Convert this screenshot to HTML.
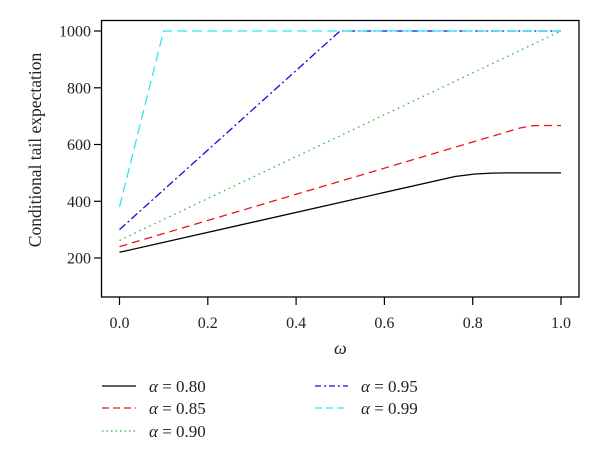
<!DOCTYPE html>
<html><head><style>body{margin:0;background:#fff}svg{display:block}text{font-family:"Liberation Serif",serif;fill:#222}</style></head><body>
<svg width="600" height="463" xmlns="http://www.w3.org/2000/svg">
<rect x="101.5" y="20.5" width="477.5" height="276.5" fill="none" stroke="#000" stroke-width="1.3"/>
<g stroke="#000" stroke-width="1.2">
<line x1="119.5" y1="297" x2="119.5" y2="305"/><line x1="207.8" y1="297" x2="207.8" y2="305"/><line x1="296.1" y1="297" x2="296.1" y2="305"/><line x1="384.4" y1="297" x2="384.4" y2="305"/><line x1="472.7" y1="297" x2="472.7" y2="305"/><line x1="561" y1="297" x2="561" y2="305"/>
<line x1="94" y1="31" x2="101.5" y2="31"/><line x1="94" y1="87.8" x2="101.5" y2="87.8"/><line x1="94" y1="144.5" x2="101.5" y2="144.5"/><line x1="94" y1="201.3" x2="101.5" y2="201.3"/><line x1="94" y1="258" x2="101.5" y2="258"/>
</g>
<g font-size="16" text-anchor="middle">
<text x="119.5" y="328">0.0</text><text x="207.8" y="328">0.2</text><text x="296.1" y="328">0.4</text><text x="384.4" y="328">0.6</text><text x="472.7" y="328">0.8</text><text x="561" y="328">1.0</text>
</g>
<g font-size="16" text-anchor="end">
<text x="91" y="36.5">1000</text><text x="91" y="93.3">800</text><text x="91" y="150">600</text><text x="91" y="206.8">400</text><text x="91" y="263.5">200</text>
</g>
<text x="36" y="150" font-size="17.5" text-anchor="middle" transform="rotate(-90 36 150)" dy="5">Conditional tail expectation</text>
<text x="334" y="354" font-size="18" font-style="italic">ω</text>
<g fill="none" stroke-width="1.3">
<polyline stroke="#000" points="119.5,252.3 455,176.5 475,174 492,173.1 508,172.9 561,172.9"/>
<polyline stroke="#e8141c" stroke-dasharray="8,5" points="119.5,246.6 520,128 532,125.8 540,125.5 561,125.5"/>
<polyline stroke="#2db82d" stroke-dasharray="1.5,4" points="119.5,240.4 561,31"/>
<polyline stroke="#1010d0" stroke-dasharray="8,3,2,3" points="119.5,229.6 340,31 561,31"/>
<polyline stroke="#2ee6f2" stroke-dasharray="10,5" points="119.5,206.9 163.6,31 561,31"/>
</g>
<g fill="none" stroke-width="1.3">
<line x1="102" y1="386" x2="136" y2="386" stroke="#000"/>
<line x1="102" y1="408" x2="136" y2="408" stroke="#e8141c" stroke-dasharray="7,4"/>
<line x1="102" y1="431" x2="136" y2="431" stroke="#2db82d" stroke-dasharray="1.5,3"/>
<line x1="315" y1="386" x2="348" y2="386" stroke="#1010d0" stroke-dasharray="6,3,2,3"/>
<line x1="315" y1="408" x2="348" y2="408" stroke="#2ee6f2" stroke-dasharray="7,4"/>
</g>
<g font-size="17">
<text x="149" y="392"><tspan font-style="italic">α</tspan> = 0.80</text>
<text x="149" y="414"><tspan font-style="italic">α</tspan> = 0.85</text>
<text x="149" y="437"><tspan font-style="italic">α</tspan> = 0.90</text>
<text x="361" y="392"><tspan font-style="italic">α</tspan> = 0.95</text>
<text x="361" y="414"><tspan font-style="italic">α</tspan> = 0.99</text>
</g>
</svg>
</body></html>
